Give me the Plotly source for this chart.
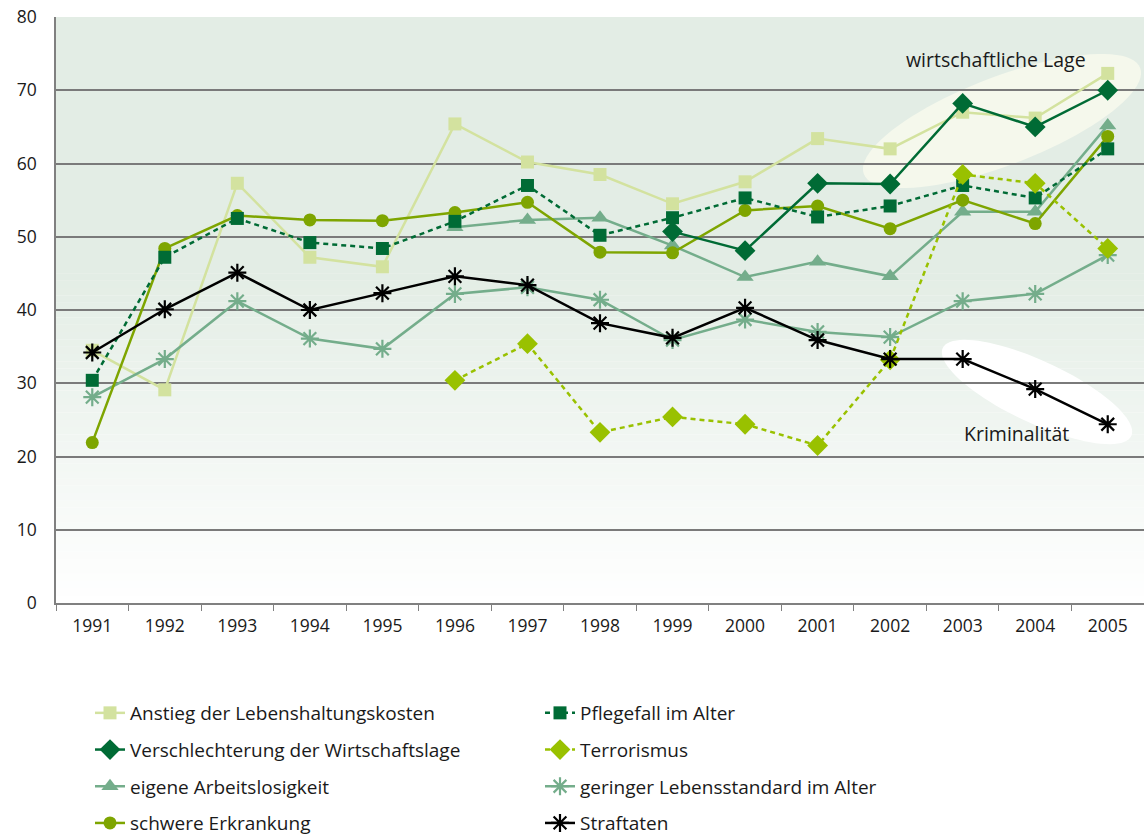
import math
import plotly.graph_objects as go

years = ["1991", "1992", "1993", "1994", "1995", "1996", "1997", "1998",
         "1999", "2000", "2001", "2002", "2003", "2004", "2005"]

lebenshaltungskosten = [34.5, 29.1, 57.3, 47.2, 45.9, 65.4, 60.2, 58.5,
                        54.5, 57.5, 63.4, 62.0, 67.0, 66.2, 72.3]
wirtschaftslage = [None, None, None, None, None, None, None, None,
                   50.7, 48.1, 57.3, 57.2, 68.2, 65.0, 70.0]
arbeitslosigkeit = [None, None, None, None, None, 51.3, 52.3, 52.6,
                    48.8, 44.5, 46.6, 44.6, 53.4, 53.4, 65.2]
erkrankung = [21.9, 48.4, 52.9, 52.3, 52.2, 53.3, 54.7, 47.9,
              47.8, 53.6, 54.2, 51.1, 55.0, 51.8, 63.7]
pflegefall = [30.4, 47.2, 52.5, 49.2, 48.4, 52.1, 57.0, 50.2,
              52.6, 55.3, 52.7, 54.2, 57.0, 55.3, 62.0]
terrorismus = [None, None, None, None, None, 30.4, 35.4, 23.3,
               25.4, 24.4, 21.5, 33.2, 58.5, 57.3, 48.4]
lebensstandard = [28.1, 33.3, 41.2, 36.1, 34.7, 42.2, 43.1, 41.4,
                  35.9, 38.7, 37.0, 36.3, 41.2, 42.2, 47.5]
straftaten = [34.2, 40.1, 45.1, 40.0, 42.3, 44.6, 43.4, 38.2,
              36.2, 40.3, 35.9, 33.3, 33.3, 29.2, 24.4]

FONT = "Open Sans"
TEXT = "#1a1a1a"
DARK = "#006b35"
LIGHT = "#d3e29f"
TEAL = "#74ad8b"
OLIVE = "#7ea500"
LIME = "#99c100"

FIG_W, FIG_H = 1144, 837
# plot area in pixels (used for paper-space shapes)
L, R, T, B = 56, 1144, 17, 603
W, H = R - L, B - T


def to_paper(px, py):
    return (px - L) / W, (B - py) / H


def ellipse_path(cx, cy, a, b, deg, n=90):
    th = math.radians(deg)
    pts = []
    for i in range(n):
        t = 2 * math.pi * i / n
        x = a * math.cos(t)
        y = b * math.sin(t)
        px = cx + x * math.cos(th) - y * math.sin(th)
        py = cy + x * math.sin(th) + y * math.cos(th)
        xp, yp = to_paper(px, py)
        pts.append(f"{xp:.5f},{yp:.5f}")
    return "M " + " L ".join(pts) + " Z"


fig = go.Figure()

# (name, values, color, symbol, size, dash, legend, rank)
series = [
    ("Anstieg der Lebenshaltungskosten", lebenshaltungskosten, LIGHT, "square", 13, "solid", "legend", 1),
    ("eigene Arbeitslosigkeit", arbeitslosigkeit, TEAL, "triangle-up", 15, "solid", "legend", 3),
    ("geringer Lebensstandard im Alter", lebensstandard, TEAL, "asterisk-open", 15, "solid", "legend2", 7),
    ("schwere Erkrankung", erkrankung, OLIVE, "circle", 13, "solid", "legend", 4),
    ("Pflegefall im Alter", pflegefall, DARK, "square", 13, "5px,4px", "legend2", 5),
    ("Terrorismus", terrorismus, LIME, "diamond", 16, "5px,4px", "legend2", 6),
    ("Verschlechterung der Wirtschaftslage", wirtschaftslage, DARK, "diamond", 16, "solid", "legend", 2),
    ("Straftaten", straftaten, "#000000", "asterisk-open", 15, "solid", "legend2", 8),
]

for name, vals, color, sym, size, dash, leg, rank in series:
    fig.add_trace(go.Scatter(
        x=years, y=vals, name=name, mode="lines+markers",
        line=dict(color=color, width=2.5, dash=dash),
        marker=dict(symbol=sym, size=size, color=color,
                    line=dict(color=color, width=2.2 if "asterisk" in sym else 0)),
        legend=leg, legendrank=rank, legendgroup=name,
        connectgaps=False, cliponaxis=False,
    ))

shapes = []
# background: soft green fading to white towards the baseline
top_rgb = (227, 237, 229)
for i in range(45):
    f = (i + 0.5) / 45
    c = tuple(round(255 + (tc - 255) * f) for tc in top_rgb)
    shapes.append(dict(type="rect", xref="paper", yref="y", x0=0, x1=1,
                       y0=i, y1=i + 1.02, fillcolor=f"rgb{c}",
                       line=dict(width=0), layer="below"))
shapes.append(dict(type="rect", xref="paper", yref="y", x0=0, x1=1,
                   y0=45, y1=80, fillcolor=f"rgb{top_rgb}",
                   line=dict(width=0), layer="below"))

# highlight ellipses
shapes.append(dict(type="path", xref="paper", yref="paper",
                   path=ellipse_path(1002, 121, 148, 44, -21),
                   fillcolor="#f5f8ec", line=dict(width=0), layer="between"))
shapes.append(dict(type="path", xref="paper", yref="paper",
                   path=ellipse_path(1037, 392, 104, 31, 25),
                   fillcolor="#ffffff", line=dict(width=0), layer="between"))

ax1, ay1 = to_paper(996, 60)
ax2, ay2 = to_paper(1016, 433)
annotations = [
    dict(x=ax1, y=ay1, xref="paper", yref="paper", text="wirtschaftliche Lage",
         xanchor="center", yanchor="middle", showarrow=False,
         font=dict(family=FONT, size=19.5, color=TEXT)),
    dict(x=ax2, y=ay2, xref="paper", yref="paper", text="Kriminalität",
         xanchor="center", yanchor="middle", showarrow=False,
         font=dict(family=FONT, size=19.5, color=TEXT)),
]

legend_common = dict(orientation="v", traceorder="grouped", tracegroupgap=9,
                     font=dict(family=FONT, size=19, color=TEXT),
                     bgcolor="rgba(0,0,0,0)", borderwidth=0,
                     xanchor="left", yanchor="top", itemwidth=30)

fig.update_layout(
    width=FIG_W, height=FIG_H,
    margin=dict(l=L, r=FIG_W - R, t=T, b=FIG_H - B, autoexpand=False),
    paper_bgcolor="white", plot_bgcolor="white",
    font=dict(family=FONT, size=17.5, color=TEXT),
    shapes=shapes, annotations=annotations,
    legend=dict(x=(90 - L) / W, y=(B - 694) / H, **legend_common),
    legend2=dict(x=(540 - L) / W, y=(B - 694) / H, **legend_common),
    xaxis=dict(type="category", showgrid=False, showline=True,
               linecolor="#808080", linewidth=1.5, ticks="outside",
               tickson="boundaries", ticklen=6, tickcolor="#808080",
               tickwidth=1.2, tickfont=dict(size=17.5), ticklabelstandoff=6,
               range=[-0.5, 14.5]),
    yaxis=dict(range=[0, 80], dtick=10, showgrid=True, gridcolor="#7a7a7a",
               gridwidth=1.5, showline=True, linecolor="#808080",
               linewidth=1.5, ticks="", tickfont=dict(size=17.5),
               ticklabelstandoff=14, zeroline=False),
)

fig.write_html("out.html")
